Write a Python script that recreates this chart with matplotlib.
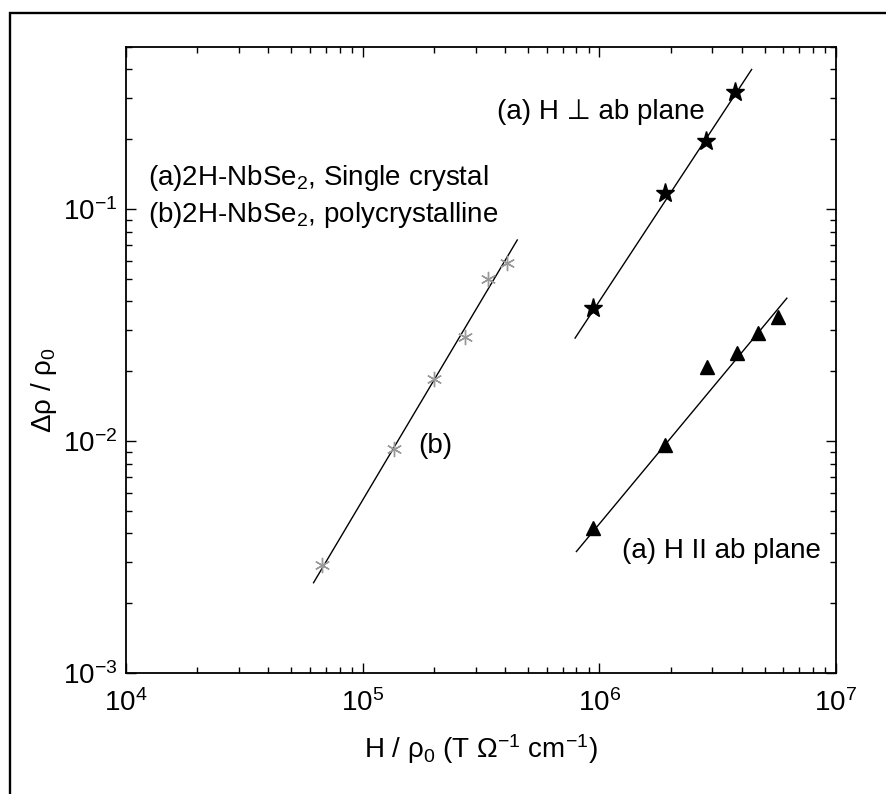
import matplotlib
matplotlib.use("Agg")
import matplotlib.pyplot as plt
from matplotlib.patches import Rectangle

plt.rcParams['font.family'] = ['Liberation Sans', 'DejaVu Sans']
plt.rcParams['mathtext.fontset'] = 'custom'
plt.rcParams['mathtext.rm'] = 'Liberation Sans'
plt.rcParams['mathtext.it'] = 'Liberation Sans:italic'
plt.rcParams['mathtext.bf'] = 'Liberation Sans:bold'
plt.rcParams['axes.unicode_minus'] = False

# (a) single crystal, H perpendicular to ab plane (stars)
perp_x = [9.4e5, 1.89e6, 2.81e6, 3.74e6]
perp_y = [0.0376, 0.1175, 0.196, 0.321]
perp_fit_x = [7.9e5, 4.4e6]
perp_fit_y = [0.0278, 0.40]

# (a) single crystal, H parallel to ab plane (triangles)
par_x = [9.44e5, 1.89e6, 2.85e6, 3.81e6, 4.68e6, 5.69e6]
par_y = [0.0042, 0.0096, 0.0208, 0.0239, 0.0292, 0.0342]
par_fit_x = [8.0e5, 6.2e6]
par_fit_y = [0.00334, 0.0413]

# (b) polycrystalline (asterisks)
poly_x = [6.75e4, 1.36e5, 2.0e5, 2.7e5, 3.39e5, 4.06e5]
poly_y = [0.00292, 0.0092, 0.0185, 0.028, 0.0498, 0.0583]
poly_fit_x = [6.2e4, 4.5e5]
poly_fit_y = [0.00245, 0.0736]

W, H = 887, 794
fig = plt.figure(figsize=(W / 100, H / 100), dpi=100)
ax = fig.add_axes([126 / W, 1 - 673 / H, 710 / W, 626 / H])

# outer frame (runs off the right/bottom edges)
fig.add_artist(Rectangle((10 / W, -0.1), 1.5, 1.1 - 13 / H,
                         transform=fig.transFigure, fill=False,
                         lw=1.7, ec='black', clip_on=False))

ax.plot(perp_fit_x, perp_fit_y, color='black', lw=1.0)
ax.plot(par_fit_x, par_fit_y, color='black', lw=1.0)
ax.plot(poly_fit_x, poly_fit_y, color='black', lw=1.0)

ax.plot(perp_x, perp_y, ls='none', marker='*', ms=14, color='black')
ax.plot(par_x, par_y, ls='none', marker='^', ms=10, color='black')
ax.plot(poly_x, poly_y, ls='none', marker=(6, 2, 0), ms=11,
        mew=1.0, color='#999999')

ax.set_xscale('log')
ax.set_yscale('log')
ax.set_xlim(1e4, 1e7)
ax.set_ylim(1e-3, 0.5)

for s in ax.spines.values():
    s.set_linewidth(1.3)
ax.tick_params(which='both', direction='in', top=True, right=True,
               labelsize=20)
ax.tick_params(which='major', length=7.5, width=1.0)
ax.tick_params(which='minor', length=4, width=1.0)
ax.tick_params(axis='x', pad=12)
ax.tick_params(axis='y', pad=6)


def px(x, y):
    return ((x - 126) / 710, (673 - y) / 626)


fs = 20
ax.text(*px(148, 185), '(a)2H-NbSe$_2$, Single crystal', fontsize=fs,
        transform=ax.transAxes, va='baseline', ha='left')
ax.text(*px(148, 222), '(b)2H-NbSe$_2$, polycrystalline', fontsize=fs,
        transform=ax.transAxes, va='baseline', ha='left')
ax.text(*px(705, 119), '(a) H \u22a5 ab plane', fontsize=fs,
        transform=ax.transAxes, va='baseline', ha='right')
ax.text(*px(622, 558), '(a) H II ab plane', fontsize=fs,
        transform=ax.transAxes, va='baseline', ha='left')
ax.text(*px(418, 453), '(b)', fontsize=fs,
        transform=ax.transAxes, va='baseline', ha='left')

fig.text(481 / W, 1 - 758 / H, 'H / \u03c1$_0$ (T \u03a9$^{-1}$ cm$^{-1}$)',
         fontsize=fs, ha='center', va='baseline')
fig.text(44 / W, 1 - 390 / H, '\u0394\u03c1 / \u03c1$_0$', fontsize=fs,
         rotation=90, ha='center', va='center')

fig.savefig('out.png', dpi=100)
